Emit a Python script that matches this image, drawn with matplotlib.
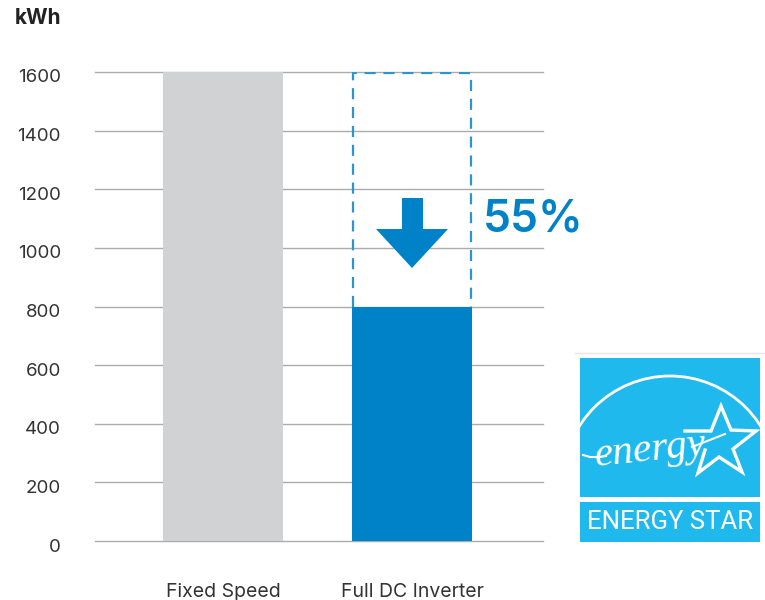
#!/usr/bin/env python3
import matplotlib
matplotlib.use('Agg')
import matplotlib.pyplot as plt
import matplotlib.patches as patches
from matplotlib.transforms import ScaledTranslation

categories = ['Fixed Speed', 'Full DC Inverter']
consumption = [1600, 800]
saved_top = 1595
y_ticks = [0, 200, 400, 600, 800, 1000, 1200, 1400, 1600]
saving_label = '55%'

W, H = 765, 600
GREY = '#D1D2D4'
BLUE = '#0082C8'
DASH = '#2B95D3'
LOGO = '#1FB9ED'
TEXT = '#333333'

plt.rcParams['font.family'] = ['Inter', 'DejaVu Sans']

fig = plt.figure(figsize=(W / 100, H / 100), dpi=100, facecolor='white')

# axes box in pixels: x 95..543, y 72..541
ax = fig.add_axes([95 / W, 1 - 541 / H, 448 / W, 469 / H])
ax.set_xlim(-0.677, 1.693)
ax.set_ylim(0, 1600)
for spine in ax.spines.values():
    spine.set_visible(False)
ax.set_axisbelow(True)
ax.yaxis.grid(True, color='#ABABAB', linewidth=1)
ax.xaxis.grid(False)

ax.bar(range(len(categories)), consumption, width=0.635, color=[GREY, BLUE], zorder=3)
# saved part above the inverter bar, open at the bottom
half = 0.31
ax.plot([1 - half, 1 - half, 1 + half, 1 + half],
        [consumption[1], saved_top, saved_top, consumption[1]],
        color=DASH, linewidth=1.6, linestyle=(0, (5, 3.5)), zorder=2)

ax.set_yticks(y_ticks)
ax.set_xticks(range(len(categories)))
ax.set_xticklabels(categories)
ax.tick_params(axis='y', length=0, pad=24.5, labelsize=13.5, labelcolor=TEXT)
ax.tick_params(axis='x', length=0, pad=30.5, labelsize=14, labelcolor=TEXT)
# the lines at 0 and 1600 lie on the axes edge
for line in ax.get_ygridlines():
    line.set_clip_on(False)
# y labels sit a little below their grid lines
shift = ScaledTranslation(0, -4 / 100, fig.dpi_scale_trans)
for label in ax.get_yticklabels():
    label.set_transform(label.get_transform() + shift)

# overlay in pixel coordinates for arrow, captions and the logo
ov = fig.add_axes([0, 0, 1, 1], facecolor='none')
ov.set_xlim(0, W)
ov.set_ylim(H, 0)
ov.axis('off')

ov.text(61, 18, 'kWh', ha='right', va='center', fontsize=15, fontweight='bold', color='#222222')

arrow = [(402, 198), (423, 198), (423, 229), (448, 229), (412, 268), (376, 229), (402, 229)]
ov.add_patch(patches.Polygon(arrow, closed=True, facecolor=BLUE, edgecolor='none'))
ov.text(533, 220, saving_label, ha='center', va='center', fontsize=32, fontweight='semibold', color=BLUE)

# Energy Star logo
ov.plot([575, 765], [353, 353], color='#E6E6E6', linewidth=1)
ov.add_patch(patches.Rectangle((580, 358), 180, 139, facecolor=LOGO, edgecolor='none'))
ov.add_patch(patches.Rectangle((580, 502), 180, 40, facecolor=LOGO, edgecolor='none'))
ov.text(670, 522, 'ENERGY STAR', ha='center', va='center', fontsize=18.5, color='white',
        family='Roboto')

# arc over the star, clipped to the blue square
arc_clip = patches.Rectangle((580, 358), 180, 139, transform=ov.transData)
arc = patches.Ellipse((670, 483), 214, 214, fill=False, edgecolor='white', linewidth=2)
ov.add_patch(arc)
arc.set_clip_path(arc_clip)

star = [(685, 431), (711, 431), (721, 406), (731, 430), (756, 431), (733, 449),
        (742, 472), (719, 457), (698, 473), (705, 450)]
ov.plot(*zip(*star), color='white', linewidth=2.4, solid_joinstyle='miter')

ov.text(650, 450, 'energy', ha='center', va='center', fontsize=30, style='italic',
        color='white', family='Liberation Serif', rotation=6)
ov.plot([583, 590, 600, 606], [455, 457, 457, 456], color='white', linewidth=1.5)
ov.plot([692, 725], [447, 434], color='white', linewidth=1.5)

fig.savefig('out.png', dpi=100)
